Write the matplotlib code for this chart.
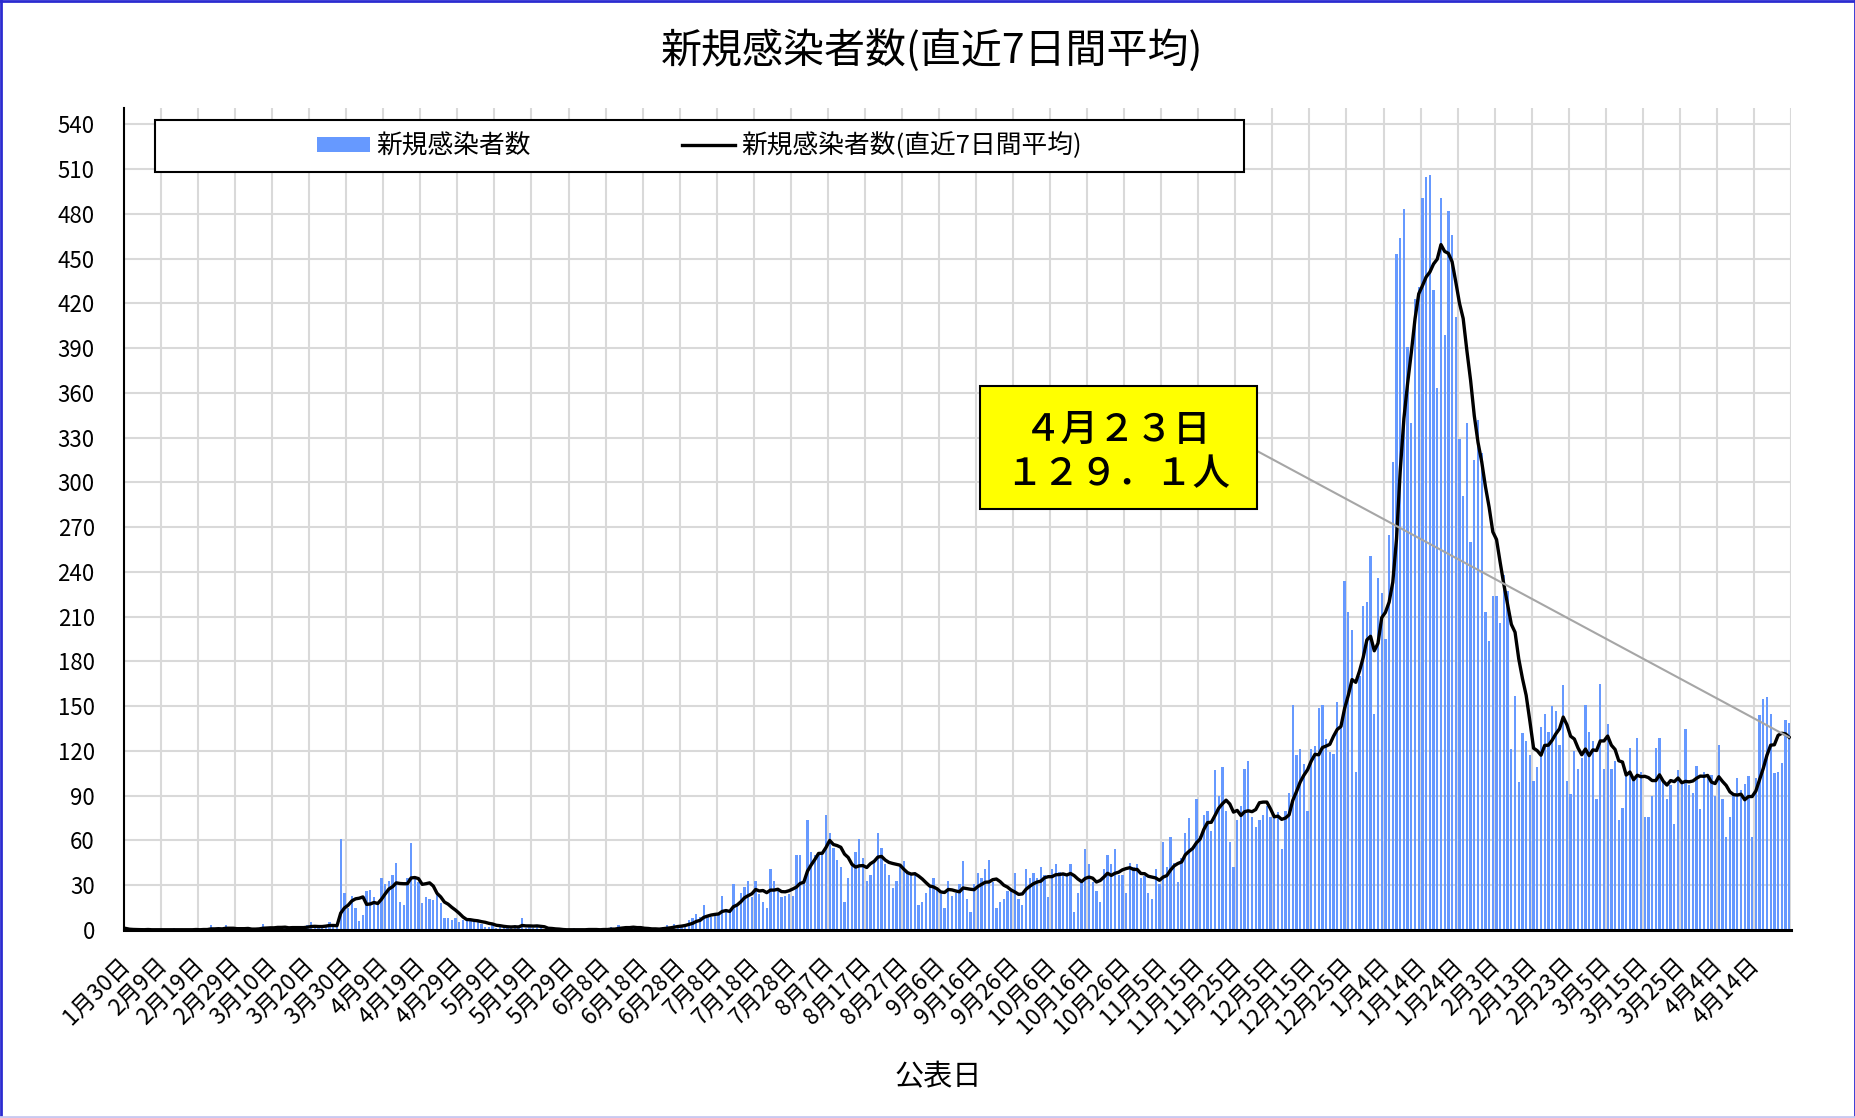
import numpy as np
import pandas as pd
import matplotlib
matplotlib.use('Agg')
import matplotlib.pyplot as plt
import matplotlib.transforms as mtransforms
from matplotlib.patches import Rectangle, Patch
from matplotlib.lines import Line2D

plt.rcParams['font.family'] = ['Noto Sans CJK JP', 'DejaVu Sans']

# daily new cases by publication date, 2020-01-30 .. 2021-04-23
start_date = '2020-01-30'
cases_2020_01 = [1, 0]
cases_2020_02 = [0, 0, 0, 0, 1, 0, 0, 0, 0, 0, 0, 1, 0, 0, 0, 0, 0, 1, 0, 1,
                 0, 3, 0, 1, 0, 3, 1, 0, 1]
cases_2020_03 = [0, 1, 1, 0, 1, 1, 4, 1, 2, 1, 2, 1, 2, 1, 2, 2, 1, 2, 3, 5,
                 2, 1, 2, 3, 5, 3, 4, 61, 25, 15, 23]
cases_2020_04 = [15, 6, 10, 26, 27, 22, 18, 35, 31, 33, 37, 45, 19, 17, 35, 58,
                 35, 32, 18, 22, 21, 20, 24, 18, 8, 8, 7, 8, 5, 7]
cases_2020_05 = [6, 7, 5, 5, 4, 2, 2, 3, 1, 3, 2, 2, 1, 3, 2, 8, 1, 2, 1, 2,
                 1, 0, 1, 0, 0, 0, 0, 0, 0, 1, 0]
cases_2020_06 = [0, 0, 1, 0, 0, 0, 1, 0, 2, 1, 3, 2, 2, 1, 2, 0, 1, 0, 1, 0,
                 1, 1, 2, 3, 2, 4, 3, 3, 4, 7]
cases_2020_07 = [8, 11, 9, 17, 9, 9, 10, 10, 23, 13, 13, 31, 17, 25, 29, 33,
                 22, 33, 24, 19, 15, 41, 33, 26, 22, 23, 24, 23, 50, 50, 32]
cases_2020_08 = [74, 52, 50, 51, 51, 77, 65, 55, 47, 42, 19, 35, 45, 52, 61,
                 48, 33, 37, 46, 65, 55, 44, 37, 28, 33, 42, 46, 39, 37, 39, 17]
cases_2020_09 = [19, 25, 30, 35, 28, 24, 15, 33, 23, 25, 31, 46, 21, 12, 31,
                 38, 35, 41, 47, 32, 15, 19, 21, 26, 27, 38, 21, 17, 41, 35]
cases_2020_10 = [38, 35, 42, 37, 22, 41, 44, 39, 38, 37, 44, 12, 25, 32, 54,
                 44, 32, 26, 19, 41, 50, 44, 54, 37, 37, 25, 45, 42, 44, 35, 36]
cases_2020_11 = [25, 21, 41, 31, 59, 42, 62, 45, 32, 48, 65, 75, 56, 88, 63,
                 77, 80, 66, 107, 90, 109, 80, 59, 42, 74, 83, 108, 113, 76, 69]
cases_2020_12 = [74, 77, 83, 76, 76, 79, 54, 80, 92, 151, 117, 121, 111, 80,
                 121, 123, 149, 151, 128, 119, 118, 153, 137, 234, 213, 201,
                 106, 170, 217, 220, 251]
cases_2021_01 = [145, 236, 226, 195, 265, 314, 453, 464, 483, 391, 340, 423,
                 431, 491, 505, 506, 429, 363, 491, 399, 482, 466, 411, 329,
                 291, 340, 260, 315, 342, 320, 213]
cases_2021_02 = [194, 224, 224, 206, 238, 227, 121, 157, 99, 132, 127, 117,
                 100, 109, 136, 145, 133, 150, 147, 124, 164, 100, 91, 120,
                 108, 115, 151, 133]
cases_2021_03 = [127, 88, 165, 108, 138, 108, 113, 74, 82, 104, 122, 102, 129,
                 106, 76, 76, 90, 122, 129, 99, 88, 97, 71, 107, 100, 135, 97,
                 92, 110, 81, 106]
cases_2021_04 = [104, 104, 90, 124, 88, 62, 76, 91, 102, 94, 98, 103, 62, 102,
                 144, 155, 156, 145, 105, 106, 112, 141, 139]

title = '新規感染者数(直近7日間平均)'
bar_label = '新規感染者数'
line_label = '新規感染者数(直近7日間平均)'
x_label = '公表日'
callout_text = '４月２３日\n１２９．１人'

daily = np.array(cases_2020_01 + cases_2020_02 + cases_2020_03 + cases_2020_04
                 + cases_2020_05 + cases_2020_06 + cases_2020_07 + cases_2020_08
                 + cases_2020_09 + cases_2020_10 + cases_2020_11 + cases_2020_12
                 + cases_2021_01 + cases_2021_02 + cases_2021_03 + cases_2021_04)
dates = pd.date_range(start_date, periods=len(daily))
avg7 = pd.Series(daily).rolling(7, min_periods=1).mean().values
labels = ['{}月{}日'.format(d.month, d.day) for d in dates]
x = np.arange(len(daily))

fig = plt.figure(figsize=(18.56, 11.18), dpi=100)
ax = fig.add_axes([0.0668, 0.1682, 0.8982, 0.7352])

ax.bar(x, daily, width=0.62, color='#6699ff', zorder=2)
ax.plot(x, avg7, color='black', lw=2.4, zorder=3)

ax.set_xlim(-0.5, len(daily) - 0.5)
ax.set_ylim(0, 551)
ax.set_yticks(np.arange(0, 541, 30))
ax.set_xticks(x[::10])
ax.set_xticklabels(labels[::10], rotation=45, ha='right', va='center',
                   rotation_mode='anchor', fontsize=16.5)
shift = mtransforms.ScaledTranslation(4 / 72, 0, fig.dpi_scale_trans)
for lbl in ax.get_xticklabels():
    lbl.set_transform(lbl.get_transform() + shift)
ax.set_xticks(np.arange(9.5, len(daily), 10), minor=True)
ax.grid(axis='y', color='#d9d9d9', lw=1.5)
ax.grid(axis='x', which='minor', color='#d9d9d9', lw=1.5)
ax.set_axisbelow(True)
ax.tick_params(axis='both', which='both', length=0)
ax.tick_params(axis='y', labelsize=16, pad=21)
ax.tick_params(axis='x', pad=23)
for s in ['top', 'right']:
    ax.spines[s].set_visible(False)
ax.spines['left'].set_linewidth(1.5)
ax.spines['bottom'].set_linewidth(2.2)

fig.text(0.502, 0.955, title, ha='center', va='center', fontsize=29.5)
fig.text(0.5054, 0.0367, x_label, ha='center', va='center', fontsize=21)

# legend box
fig.add_artist(Rectangle((0.0835, 0.8462), 0.5867, 0.0465, transform=fig.transFigure,
                         facecolor='white', edgecolor='black', lw=1.5, zorder=4))
handles = [Patch(facecolor='#6699ff'), Line2D([], [], color='black', lw=2.4)]
leg = fig.legend(handles, [bar_label, line_label], loc='center',
                 bbox_to_anchor=(0.3769, 0.8694), ncol=2, frameon=False,
                 fontsize=18.5, handlelength=2.05, handleheight=0.5,
                 handletextpad=0.25, columnspacing=5.9)
leg.set_zorder(5)

# callout for the latest value
ax.annotate('', xy=(x[-1], avg7[-1]), xycoords='data',
            xytext=(0.6773, 0.5966), textcoords='figure fraction',
            arrowprops=dict(arrowstyle='-', color='#a6a6a6', lw=1.5,
                            shrinkA=0, shrinkB=0),
            annotation_clip=False, zorder=4)
fig.add_artist(Rectangle((0.528, 0.5447), 0.1493, 0.11, transform=fig.transFigure,
                         facecolor='#ffff00', edgecolor='black', lw=1.5, zorder=4))
fig.text(0.602, 0.596, callout_text, ha='center', va='center', fontsize=27,
         fontweight='medium', linespacing=1.2, zorder=5)

# outer frame
fig.add_artist(Line2D([0.0008, 0.0008], [0, 1], color='#2b2bd0', lw=2))
fig.add_artist(Line2D([0, 1], [0.9987, 0.9987], color='#2b2bd0', lw=2))
fig.add_artist(Line2D([0.9992, 0.9992], [0, 1], color='#2b2bd0', lw=2))
fig.add_artist(Line2D([0, 1], [0.0013, 0.0013], color='#c8c8f0', lw=2))

plt.savefig('out.png', dpi=100)
plt.close()
